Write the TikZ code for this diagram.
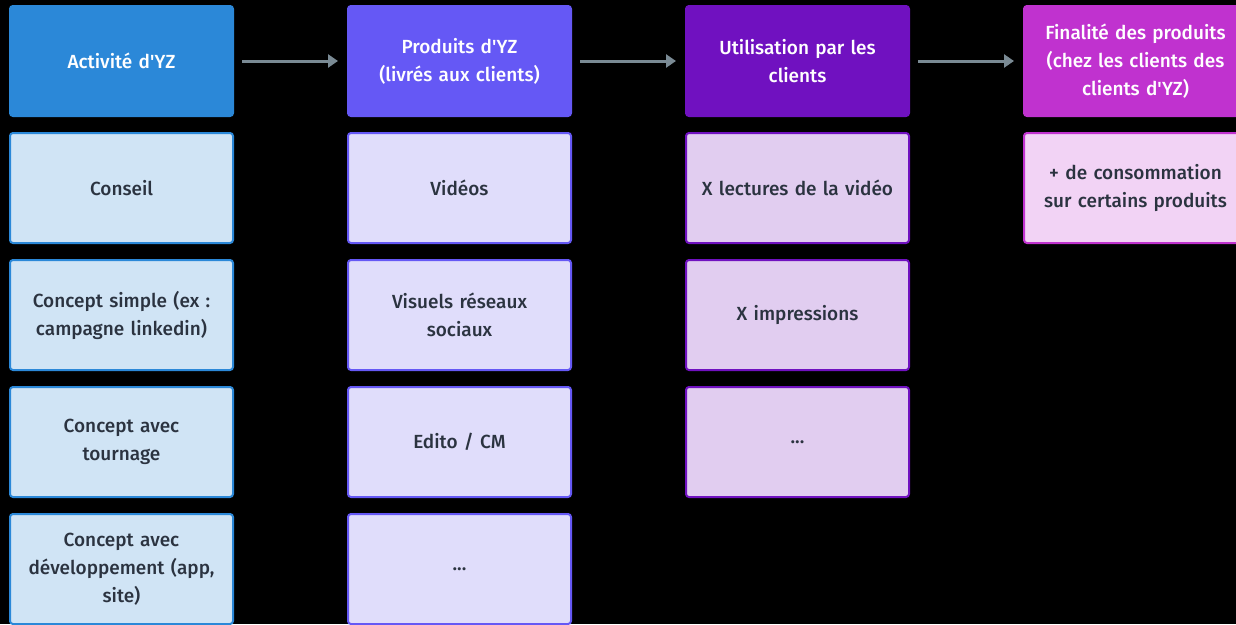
\documentclass[tikz,border=0pt]{standalone}
\usepackage{fontspec}
\setmainfont{Fira Sans Medium}[Ligatures=TeXOff]
\usetikzlibrary{arrows.meta}
\definecolor{hA}{HTML}{2B88D8}
\definecolor{hB}{HTML}{6558F5}
\definecolor{hC}{HTML}{7011C0}
\definecolor{hD}{HTML}{C032CF}
\definecolor{sA}{HTML}{D0E4F5}
\definecolor{sB}{HTML}{E0DDFB}
\definecolor{sC}{HTML}{E1CDF0}
\definecolor{sD}{HTML}{F2D3F5}
\definecolor{txt}{HTML}{2B3340}
\definecolor{arr}{HTML}{7A8A94}
\tikzset{
  box/.style={rectangle, rounded corners=3pt, minimum width=223pt, minimum height=110pt,
    text width=218pt, align=center, inner sep=0pt, line width=2pt,
    font=\fontsize{19}{28}\selectfont},
  head/.style={box, text=white},
  sub/.style={box, text=txt},
  flow/.style={draw=arr, line width=3pt, -{Triangle[length=10pt,width=13pt]}, shorten <=8pt, shorten >=9pt}
}
\begin{document}
\begin{tikzpicture}[x=1pt,y=-1pt]
\fill[black] (0,0) rectangle (1236,624);
\clip (0,0) rectangle (1236,624);
% headers
\node[head, fill=hA, draw=hA] (h1) at (121.5,61) {Activité d'YZ};
\node[head, fill=hB, draw=hB] (h2) at (459.5,61) {Produits d'YZ\\(livrés aux clients)};
\node[head, fill=hC, draw=hC] (h3) at (797.5,61) {Utilisation par les\\clients};
\node[head, fill=hD, draw=hD] (h4) at (1135.5,61) {Finalité des produits\\(chez les clients des\\clients d'YZ)};
% column 1
\node[sub, fill=sA, draw=hA] (a1) at (121.5,188) {Conseil};
\node[sub, fill=sA, draw=hA] (a2) at (121.5,315) {Concept simple (ex :\\campagne linkedin)};
\node[sub, fill=sA, draw=hA] (a3) at (121.5,442) {Concept avec\\tournage};
\node[sub, fill=sA, draw=hA] (a4) at (121.5,569) {Concept avec\\développement (app,\\site)};
% column 2
\node[sub, fill=sB, draw=hB] (b1) at (459.5,188) {Vidéos};
\node[sub, fill=sB, draw=hB] (b2) at (459.5,315) {Visuels réseaux\\sociaux};
\node[sub, fill=sB, draw=hB] (b3) at (459.5,442) {Edito / CM};
\node[sub, fill=sB, draw=hB] (b4) at (459.5,569) {...};
% column 3
\node[sub, fill=sC, draw=hC] (c1) at (797.5,188) {X lectures de la vidéo};
\node[sub, fill=sC, draw=hC] (c2) at (797.5,315) {X impressions};
\node[sub, fill=sC, draw=hC] (c3) at (797.5,442) {...};
% column 4
\node[sub, fill=sD, draw=hD] (d1) at (1135.5,188) {+ de consommation\\sur certains produits};
% arrows
\draw[flow] (h1.east) -- (h2.west);
\draw[flow] (h2.east) -- (h3.west);
\draw[flow] (h3.east) -- (h4.west);
\end{tikzpicture}
\end{document}
